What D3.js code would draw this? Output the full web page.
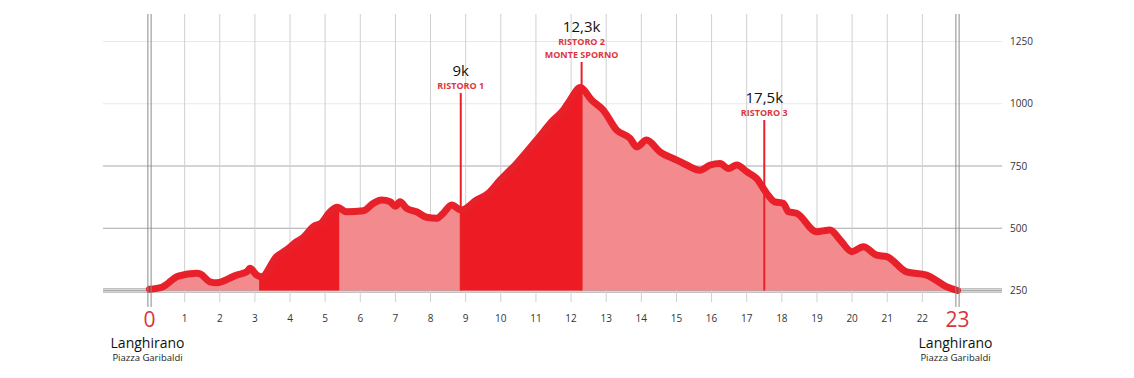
<!DOCTYPE html>
<html><head><meta charset="utf-8">
<script src="https://cdn.jsdelivr.net/npm/d3@7"></script>
<style>body{margin:0;background:#fff}svg{display:block}text{font-family:"Open Sans",sans-serif}</style>
</head><body><svg id="c" width="1134" height="378"></svg>
<script>
// distance (km) and elevation (m)
const km =   [0,0.35,0.82,1.34,1.45,1.72,1.91,2.48,2.77,2.86,3.05,3.19,3.62,3.9,4.19,4.38,4.66,4.9,5.14,5.35,5.61,6.09,6.37,6.61,6.85,7.0,7.13,7.32,7.6,7.89,8.18,8.36,8.6,8.87,9.31,9.64,9.98,10.45,11.02,11.49,11.78,11.97,12.26,12.59,12.92,13.3,13.68,13.87,14.15,14.53,15.01,15.29,15.67,15.96,16.24,16.48,16.72,17.0,17.28,17.57,17.8,18.04,18.19,18.42,18.99,19.37,19.66,19.99,20.32,20.7,20.99,21.55,22.12,22.69,23];
const elev = [255,263,308,319,316,285,281,312,325,339,312,305,386,413,446,463,506,522,566,584,566,570,600,613,606,588,606,580,566,544,540,560,593,573,613,640,693,760,854,934,974,1014,1065,1014,974,894,861,827,854,807,774,754,733,754,760,740,754,727,700,640,606,600,566,560,486,493,453,406,426,392,386,325,312,265,250];
const kmTicks = d3.range(0,24);
const elevTicks = [250,500,750,1000,1250];
const climbs = [[3.12,5.4],[8.86,12.3]];
const stops = [
  {km:8.86, top:93, label:"9k", lines:["RISTORO 1"]},
  {km:12.3, top:62, label:"12,3k", lines:["RISTORO 2","MONTE SPORNO"]},
  {km:17.5, top:120, label:"17,5k", lines:["RISTORO 3"]}
];
const start = {name:"Langhirano", sub:"Piazza Garibaldi"};

const svg = d3.select("#c");
const x = d3.scaleLinear().domain([0,23]).range([149.5,957.5]);
const y = d3.scaleLinear().domain([250,1250]).range([290.5,41.5]);
const pts = km.map((k,i)=>[k,elev[i]]);

// horizontal grid
svg.append("g").selectAll("line").data(elevTicks).join("line")
  .attr("x1",103).attr("x2",1002).attr("y1",d=>y(d)).attr("y2",d=>y(d))
  .attr("stroke",d=>d>=1000?"#e8e8e8":"#a8a8a8").attr("stroke-width",1);
// baseline double
[-1.6,1.6].forEach(o=>svg.append("line").attr("x1",103).attr("x2",1002)
  .attr("y1",y(250)+o).attr("y2",y(250)+o).attr("stroke","#9a9a9a").attr("stroke-width",1));
// vertical grid
svg.append("g").selectAll("line").data(kmTicks.filter(d=>d>0&&d<23)).join("line")
  .attr("x1",d=>x(d)).attr("x2",d=>x(d)).attr("y1",14).attr("y2",302)
  .attr("stroke","#d0d0d0").attr("stroke-width",1);

// area
const area = d3.area().x(d=>x(d[0])).y0(y(250)).y1(d=>y(d[1])).curve(d3.curveMonotoneX);
const line = d3.line().x(d=>x(d[0])).y(d=>y(d[1])).curve(d3.curveMonotoneX);
svg.append("path").attr("d",area(pts)).attr("fill","#f38b8e");
const defs = svg.append("defs");
climbs.forEach((c,i)=>{
  defs.append("clipPath").attr("id","cl"+i).append("rect")
    .attr("x",x(c[0])).attr("width",x(c[1])-x(c[0])).attr("y",0).attr("height",400);
  svg.append("path").attr("d",area(pts)).attr("fill","#ed1c24").attr("clip-path",`url(#cl${i})`);
});

// stop markers
const sg = svg.append("g").selectAll("g").data(stops).join("g");
sg.append("line").attr("x1",d=>x(d.km)).attr("x2",d=>x(d.km)).attr("y1",d=>d.top)
  .attr("y2",y(250)).attr("stroke","#e8202a").attr("stroke-width",2);
sg.append("text").attr("x",d=>x(d.km)).attr("y",d=>d.top-4.5-12.3*(d.lines.length-1)-12.8)
  .attr("text-anchor","middle").attr("font-size",15).attr("fill","#111").text(d=>d.label);
sg.each(function(d){
  d.lines.forEach((t,i)=>{
    d3.select(this).append("text").attr("x",x(d.km)).attr("y",d.top-4.5-12.3*(d.lines.length-1-i))
      .attr("text-anchor","middle").attr("font-size",9).attr("font-weight","bold")
      .attr("fill","#dc373d").text(t);
  });
});

// profile line
svg.append("path").attr("d",line(pts)).attr("fill","none").attr("stroke","#e8202a")
  .attr("stroke-width",7).attr("stroke-linejoin","round").attr("stroke-linecap","round");

// 0 and 23 boundary lines
[0,23].forEach(k=>[-1.6,1.6].forEach(o=>svg.append("line").attr("x1",x(k)+o).attr("x2",x(k)+o)
  .attr("y1",14).attr("y2",307).attr("stroke","#8a8a8a").attr("stroke-width",1)));

// x tick labels
svg.append("g").selectAll("text").data(kmTicks.filter(d=>d>0&&d<23)).join("text")
  .attr("x",d=>x(d)).attr("y",322).attr("text-anchor","middle").attr("font-size",10)
  .attr("fill","#333").text(d=>d);
[0,23].forEach(k=>{
  svg.append("text").attr("x",x(k)).attr("y",327).attr("text-anchor","middle")
    .attr("font-size",21).attr("fill","#d8363c").text(k);
  svg.append("text").attr("x",x(k)-2).attr("y",348).attr("text-anchor","middle")
    .attr("font-size",14).attr("fill","#111").text(start.name);
  svg.append("text").attr("x",x(k)-2).attr("y",361).attr("text-anchor","middle")
    .attr("font-size",9.5).attr("fill","#222").text(start.sub);
});
// y tick labels
svg.append("g").selectAll("text").data(elevTicks).join("text")
  .attr("x",1010).attr("y",d=>y(d)+3.5).attr("font-size",10).attr("fill","#333").text(d=>d);
</script></body></html>
